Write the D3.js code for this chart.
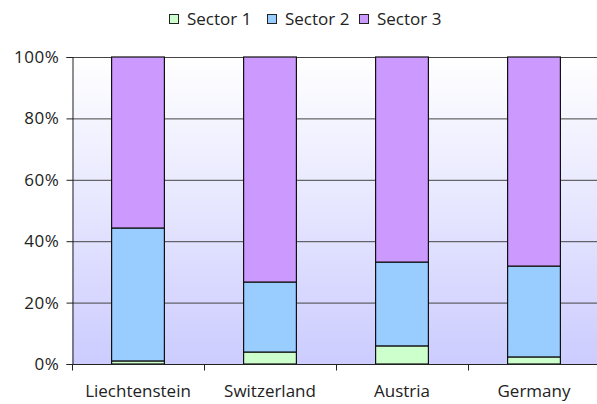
<!DOCTYPE html>
<html>
<head>
<meta charset="utf-8">
<script src="https://cdn.jsdelivr.net/npm/d3@7"></script>
<style>
  body { margin: 0; background: #fff; }
  text { font-family: "Open Sans", "DejaVu Sans", sans-serif; fill: #222; }
</style>
</head>
<body>
<svg id="chart"></svg>
<script>
const countries = ["Liechtenstein", "Switzerland", "Austria", "Germany"];
const sectorNames = ["Sector 1", "Sector 2", "Sector 3"];
const sector1 = [1.0, 3.9, 5.9, 2.3];
const sector2 = [43.3, 22.8, 27.3, 29.6];
const sector3 = [55.7, 73.3, 66.8, 68.1];
const yTicks = [0, 20, 40, 60, 80, 100];
const colors = ["#ccffcc", "#99ccff", "#cc99ff"];

const width = 597, height = 404;
const margin = {top: 57, right: -3, bottom: 40, left: 72};

const svg = d3.select("#chart").attr("width", width).attr("height", height);

const rows = countries.map((c, i) => ({
  country: c,
  "Sector 1": sector1[i],
  "Sector 2": sector2[i],
  "Sector 3": sector3[i]
}));
const series = d3.stack().keys(sectorNames).offset(d3.stackOffsetExpand)(rows);

const x = d3.scaleBand()
  .domain(countries)
  .range([margin.left, width - margin.right])
  .paddingInner(0.6)
  .paddingOuter(0.3);
const xOuter = d3.scaleBand().domain(countries).range([margin.left, width - margin.right]);
const y = d3.scaleLinear().domain([0, 1]).range([height - margin.bottom, margin.top]);

// background gradient
const defs = svg.append("defs");
const grad = defs.append("linearGradient")
  .attr("id", "bg").attr("x1", 0).attr("y1", 0).attr("x2", 0).attr("y2", 1);
grad.append("stop").attr("offset", "0%").attr("stop-color", "#ffffff");
grad.append("stop").attr("offset", "100%").attr("stop-color", "#ccccff");

svg.append("rect")
  .attr("x", margin.left)
  .attr("y", y(1))
  .attr("width", width - margin.right - margin.left)
  .attr("height", y(0) - y(1))
  .attr("fill", "url(#bg)");

// gridlines
svg.append("g")
  .selectAll("line")
  .data(yTicks.filter(t => t > 0))
  .join("line")
  .attr("x1", margin.left)
  .attr("x2", width - margin.right)
  .attr("y1", t => y(t / 100) + 0.5)
  .attr("y2", t => y(t / 100) + 0.5)
  .attr("stroke", "#444")
  .attr("stroke-width", 1);

// bars
svg.append("g")
  .selectAll("g")
  .data(series)
  .join("g")
  .attr("fill", (d, i) => colors[i])
  .selectAll("rect")
  .data(d => d)
  .join("rect")
  .attr("x", d => x(d.data.country))
  .attr("y", d => y(d[1]))
  .attr("width", x.bandwidth())
  .attr("height", d => y(d[0]) - y(d[1]))
  .attr("stroke", "#111")
  .attr("stroke-width", 1.2);

// y axis
const yAxis = svg.append("g")
  .attr("transform", `translate(${margin.left + 0.5},0)`)
  .call(d3.axisLeft(y).tickValues(yTicks.map(t => t / 100))
    .tickFormat(d => Math.round(d * 100) + "%").tickSizeOuter(0).tickSize(6).tickPadding(7));
yAxis.select(".domain").attr("stroke", "#222");
yAxis.selectAll(".tick line").attr("stroke", "#222");
yAxis.selectAll("text").style("font-size", "17px").style("letter-spacing", "0.6px").attr("fill", "#222");

// x axis
const xAxis = svg.append("g")
  .attr("transform", `translate(0,${height - margin.bottom + 0.5})`);
xAxis.append("line")
  .attr("x1", margin.left).attr("x2", width - margin.right)
  .attr("stroke", "#222");
xAxis.selectAll(".tk")
  .data(countries)
  .join("line")
  .attr("x1", c => xOuter(c) + 0.5)
  .attr("x2", c => xOuter(c) + 0.5)
  .attr("y1", 0).attr("y2", 6)
  .attr("stroke", "#222");
xAxis.selectAll("text")
  .data(countries)
  .join("text")
  .attr("x", c => xOuter(c) + xOuter.bandwidth() / 2)
  .attr("y", 32)
  .attr("text-anchor", "middle")
  .style("font-size", "17px")
  .text(c => c);

// legend
const legendX = [169, 267, 359];
const legend = svg.append("g").selectAll("g")
  .data(sectorNames)
  .join("g")
  .attr("transform", (d, i) => `translate(${legendX[i]},14)`);
legend.append("rect")
  .attr("x", 0.5).attr("y", 0.5)
  .attr("width", 9).attr("height", 9)
  .attr("fill", (d, i) => colors[i])
  .attr("stroke", "#222");
legend.append("text")
  .attr("x", 18).attr("y", 11)
  .style("font-size", "17px")
  .text(d => d);
</script>
</body>
</html>
